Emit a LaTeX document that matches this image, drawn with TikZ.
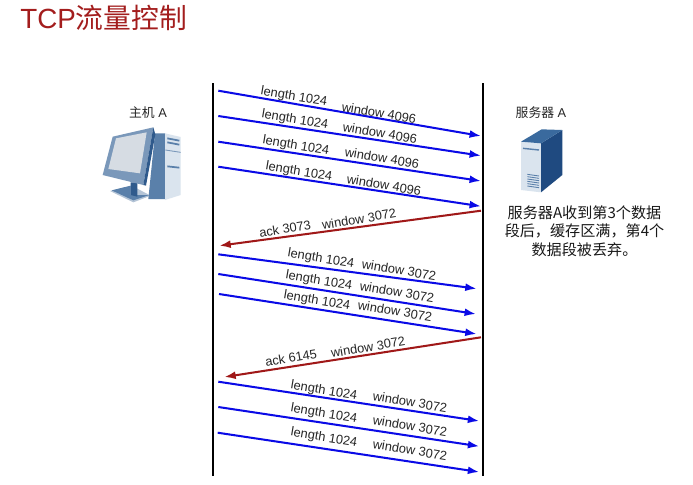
\documentclass[tikz,border=0pt]{standalone}
\usepackage{fontspec}
\setmainfont{Liberation Sans}
\newfontfamily\cjk{Noto Sans CJK SC}
\usepackage{xcolor}
\usetikzlibrary{arrows.meta}
\definecolor{segblue}{HTML}{0A0AE6}
\definecolor{ackred}{HTML}{A01818}
\definecolor{titlered}{HTML}{A31D1D}
\definecolor{iconpale}{HTML}{DAE4EE}
\definecolor{iconmid}{HTML}{7A98BA}
\definecolor{iconsteel}{HTML}{5A80AA}
\definecolor{icondeep}{HTML}{2F5A8C}
\definecolor{icontop}{HTML}{3A6A9E}
\definecolor{iconnavy}{HTML}{1F4A80}
\definecolor{iconscreen}{HTML}{D6DCE3}
\definecolor{iconbase}{HTML}{B4C4D6}
\tikzset{
  segline/.style={draw=segblue,line width=1.15pt,-{Latex[length=6.5pt,width=4.5pt]}},
  ackline/.style={draw=ackred,line width=1.15pt,-{Latex[length=6.5pt,width=4.5pt]}},
  lifeline/.style={draw=black,line width=1.5pt},
  seglabel/.style={inner sep=0pt,font=\fontsize{7.3}{8}\selectfont,text=black!85,rotate=-9.5},
  acklabel/.style={inner sep=0pt,font=\fontsize{7.3}{8}\selectfont,text=black!85,rotate=9.5},
  hostlabel/.style={inner sep=0pt,font=\fontsize{7.3}{8}\selectfont,text=black!85}
}

\begin{document}
\begin{tikzpicture}[x=0.02cm,y=-0.02cm]
        \path[use as bounding box,fill=white] (0,0) rectangle (693,484);
        % title
        \node (title) [inner sep=0pt,anchor=west,text=titlered,font=\fontsize{15.8}{18}\selectfont] at (20,18) {TCP{\cjk 流量控制}};
        % the two vertical lines
        \coordinate (hostT) at (213,83);
        \coordinate (hostB) at (213,476);
        \coordinate (servT) at (483,83);
        \coordinate (servB) at (483,476);
        \draw[lifeline] (hostT) -- (hostB);
        \draw[lifeline] (servT) -- (servB);
        % first window
        \coordinate (a1) at (218.3,90.7);
        \coordinate (b1) at (481,136);
        \coordinate (a2) at (218.3,116);
        \coordinate (b2) at (481,155.7);
        \coordinate (a3) at (218.3,141.7);
        \coordinate (b3) at (481,181);
        \coordinate (a4) at (218.3,166.7);
        \coordinate (b4) at (481,206.3);
        \draw[segline] (a1) -- (b1);
        \draw[segline] (a2) -- (b2);
        \draw[segline] (a3) -- (b3);
        \draw[segline] (a4) -- (b4);
        \node (len1) [seglabel] at (294,97) {length 1024};
        \node (win1) [seglabel] at (379,113) {window 4096};
        \node (len2) [seglabel] at (295,120) {length 1024};
        \node (win2) [seglabel] at (380,133) {window 4096};
        \node (len3) [seglabel] at (296,146) {length 1024};
        \node (win3) [seglabel] at (382,158) {window 4096};
        \node (len4) [seglabel] at (299,172) {length 1024};
        \node (win4) [seglabel] at (384,185) {window 4096};
        % first ack
        \coordinate (c1) at (481,210.7);
        \coordinate (d1) at (219.3,245.7);
        \draw[ackline] (c1) -- (d1);
        \node (ack1) [acklabel] at (285,229) {ack 3073};
        \node (ackw1) [acklabel] at (359,219) {window 3072};
        % second window
        \coordinate (a5) at (218.3,254.3);
        \coordinate (b5) at (476.7,288.7);
        \coordinate (a6) at (218.3,274);
        \coordinate (b6) at (476,314);
        \coordinate (a7) at (219,294);
        \coordinate (b7) at (476.7,334);
        \draw[segline] (a5) -- (b5);
        \draw[segline] (a6) -- (b6);
        \draw[segline] (a7) -- (b7);
        \node (len5) [seglabel] at (321,259) {length 1024};
        \node (win5) [seglabel] at (399,270) {window 3072};
        \node (len6) [seglabel] at (319,281) {length 1024};
        \node (win6) [seglabel] at (397,292) {window 3072};
        \node (len7) [seglabel] at (317,301) {length 1024};
        \node (win7) [seglabel] at (395,311) {window 3072};
        % second ack
        \coordinate (c2) at (481,337.3);
        \coordinate (d2) at (224.3,377);
        \draw[ackline] (c2) -- (d2);
        \node (ack2) [acklabel] at (291,358) {ack 6145};
        \node (ackw2) [acklabel] at (368,347) {window 3072};
        % third window
        \coordinate (a8) at (218.3,381.7);
        \coordinate (b8) at (479.3,421);
        \coordinate (a9) at (218.3,407);
        \coordinate (b9) at (479.3,446.3);
        \coordinate (a10) at (217.7,432.7);
        \coordinate (b10) at (479.3,472);
        \draw[segline] (a8) -- (b8);
        \draw[segline] (a9) -- (b9);
        \draw[segline] (a10) -- (b10);
        \node (len8) [seglabel] at (324,391) {length 1024};
        \node (win8) [seglabel] at (410,402) {window 3072};
        \node (len9) [seglabel] at (324,414) {length 1024};
        \node (win9) [seglabel] at (410,426) {window 3072};
        \node (len10) [seglabel] at (324,438) {length 1024};
        \node (win10) [seglabel] at (410,450) {window 3072};
        % host
        \node (hostname) [hostlabel] at (148,113) {{\cjk 主机} A};
        \begin{scope}[shift={(90,95)},scale=1/3]
            \fill[iconbase] (60,288) -- (125,272) -- (182,302) -- (130,322) -- cycle;
            \fill[iconsteel] (195,115) -- (225,115) -- (225,312) -- (175,312) -- cycle;
            \fill[iconpale] (225,115) -- (272,126) -- (272,300) -- (225,315) -- cycle;
            \draw[iconsteel,line width=1pt] (232,130) -- (268,137);
            \draw[iconsteel,line width=1pt] (232,142) -- (268,149);
            \draw[iconsteel,line width=1pt] (232,214) -- (268,218);
            \draw[iconmid,line width=0.5pt] (226,165) -- (272,172);
            \fill[iconsteel] (65,286) -- (122,272) -- (122,300) -- (178,300) -- (130,316) -- cycle;
            \fill[icondeep] (122,262) -- (142,262) -- (142,305) -- (122,300) -- cycle;
            \fill[iconmid] (68,125) -- (190,97) -- (160,270) -- (38,240) -- cycle;
            \fill[icondeep] (190,97) -- (196,118) -- (168,272) -- (160,270) -- cycle;
            \fill[iconscreen] (78,130) -- (170,112) -- (150,235) -- (55,222) -- cycle;
        \end{scope}
        % server
        \node (servname) [hostlabel] at (541,113) {{\cjk 服务器} A};
        \begin{scope}[shift={(495,95)},scale=1/3]
            \fill[iconpale] (78,140) -- (138,145) -- (138,292) -- (78,285) -- cycle;
            \fill[iconnavy] (138,145) -- (202,105) -- (202,240) -- (138,292) -- cycle;
            \fill[icontop] (78,140) -- (140,103) -- (202,105) -- (138,145) -- cycle;
            \draw[iconsteel,line width=0.8pt] (84,160) -- (132,165);
            \foreach \k in {0,7,14,21,28,35}
                \draw[iconsteel,line width=0.5pt] (97,238+\k) -- (132,243+\k);
        \end{scope}
        % note
        \node (note) [inner sep=0pt,align=center,font=\cjk\fontsize{8.6}{10.5}\selectfont,text=black!90] at (584.5,231) {服务器A收到第3个数据\\段后，缓存区满，第4个\\数据段被丢弃。};
    \end{tikzpicture}
\end{document}
